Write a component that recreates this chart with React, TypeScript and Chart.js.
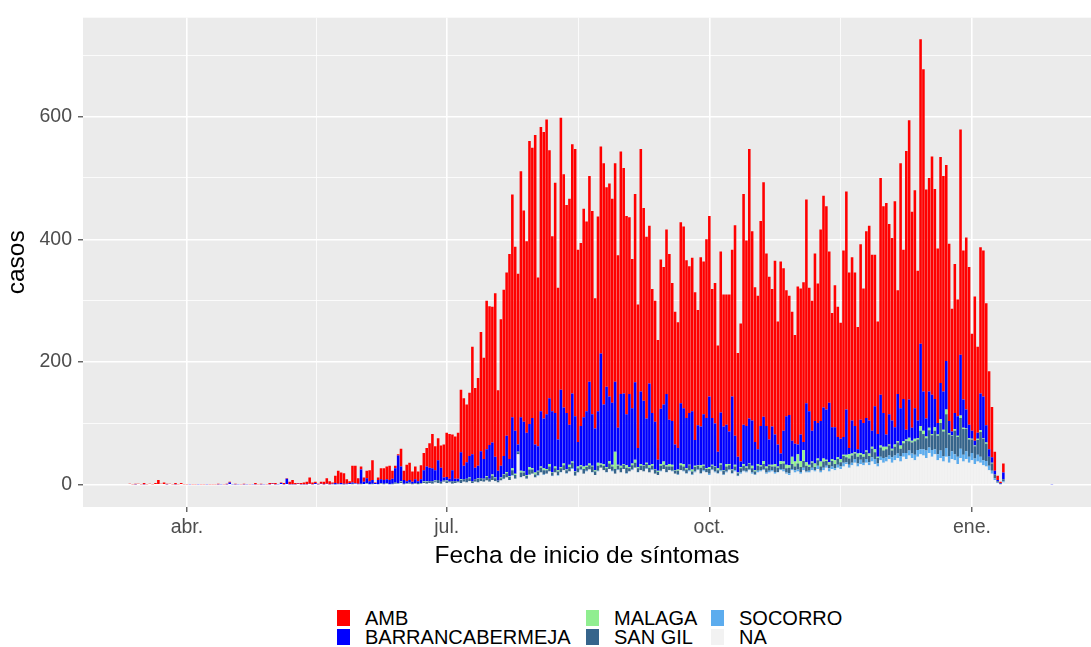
import React, { useEffect, useRef } from "react";
import { Chart, registerables } from "chart.js";

Chart.register(...registerables);

// ---------------- data ----------------
// one value per day, starting at firstDate (2020-03-12) and ending 2021-01-29
const firstDate = "2020-03-12";
const originDate = "2020-04-01";

const seriesNames = ["AMB", "BARRANCABERMEJA", "MALAGA", "SAN GIL", "SOCORRO", "NA"];
const seriesColors = ["#FF0000", "#0000FF", "#90EE90", "#36648B", "#5CACEE", "#F2F2F2"];

const amb = [
  2,1,1,2,1,2,1,2,1,3,8,2,4,1,2,1,2,1,3,1,
  1,0,1,1,0,1,1,0,1,1, 1,1,0,1,1,1,0,1,0,1, 1,0,1,0,2,1,1,0,1,2, 1,2,0,1,2,1,4,7,2,1, 2,3,4,10,3,2,1,3,4,9,
  5,2,12,21,17,17,7,3,27,28, 9,5,7,12,18,32,1,4,18,19, 21,23,13,4,2,29,15,27,28,17, 21,16,23,28,30,
  40,56,39,36,36,54,72,73,58,69, 75,102,110,94,103,175,130,143,194,165, 242,226,221,266,131,239,271,266,334,363, 300,278,401,344,312,461,440,504,275,463, 467,480,404,285,375,247,
  443,380,339,368,406,435,313,298,340,309, 335,331,212,317,337,393,325,347,332,356, 281,395,367,323,288,243,307,234,395,314, 296,257,202,197,195,243,224,268,270,225, 216,205,295,296,
  257,239,250,241,188,276,249,291,294,210, 229,173,262,215,212,223,239,343,169,225, 376,302,439,308,252,250,334,382,281,265, 224,283,200,313,265,205,194,210,177,257, 238,260,332,
  201,212,273,227,312,345,331,246,186,231, 212,189,304,355,286,266,250,199,286,219, 304,317,287,247,183,353,337,377,310,297, 368,169,399,243,454,455,352,355,244,496, 525,373,348,388,342,
  284,368,351,319,289,200,243,190,367,243, 280,257,158,235,140,238,238,199,127,82, 31,7,2,15,
  0,0,0,0,0,0,0,0,0,0,0,0,0,0,0,0,0,
];

const barrancabermeja = [
  0,0,1,0,0,1,0,0,0,0,0,0,0,1,0,0,1,0,0,0,
  0,1,0,0,1,0,0,1,0,0, 0,1,1,0,1,4,1,1,1,0, 1,1,0,1,1,0,1,1,0,1, 2,1,1,3,1,10,1,1,1,2, 1,1,1,2,1,3,1,2,1,2,
  1,1,2,1,2,1,1,3,2,1, 1,23,5,8,5,6,3,7,6,6, 6,7,8,23,45,24,6,3,4,3, 6,3,6,18,24,
  22,21,17,32,23,5,6,4,18,4, 4,44,22,27,35,44,19,20,44,32, 44,55,52,34,16,19,30,59,28,83, 70,12,87,81,69,70,82,46,40,90, 81,89,107,99,87,50,
  126,91,92,65,111,90,40,64,80,89, 133,84,68,84,179,97,131,105,101,114, 60,117,115,83,119,90,126,31,118,105, 72,133,83,77,18,90,93,116,72,71, 42,35,98,91,
  82,84,95,42,65,63,82,82,115,76, 70,27,83,71,64,53,119,47,26,9, 64,66,73,74,46,24,64,72,66,41, 62,48,36,12,50,79,82,26,29,16, 43,13,96,
  87,50,69,58,66,83,82,97,52,54, 33,33,29,74,10,54,43,7,54,51, 53,54,26,70,37,83,55,20,49,46, 28,77,61,69,16,62,21,50,29,134, 64,29,59,64,46,
  19,59,62,79,20,6,26,32,99,46, 31,22,13,8,10,60,68,28,12,9, 6,2,1,11,
  0,0,0,0,0,0,0,0,0,0,0,0,0,0,0,0,1,
];

const malaga = [
  0,0,0,0,0,0,0,0,0,0,0,0,0,0,0,0,0,0,0,0,
  0,0,0,0,0,0,0,0,0,0, 0,0,0,0,0,0,0,0,0,0, 0,0,0,0,0,0,0,0,0,0, 0,0,0,0,0,0,0,0,0,0, 0,0,0,0,0,0,0,0,0,0,
  0,0,0,0,0,0,0,0,0,0, 0,0,0,0,0,0,0,0,0,0, 0,0,0,0,0,1,0,0,0,0, 0,0,0,1,1,
  0,0,1,0,0,0,1,0,0,0, 0,1,0,0,1,0,0,1,0,1, 1,0,2,1,0,1,1,2,1,3, 2,1,3,2,1,4,2,3,1,2, 3,2,4,1,3,2,
  2,3,1,4,2,1,3,2,4,2, 3,1,2,5,2,3,2,4,3,28, 2,3,1,4,2,3,5,2,3,1, 2,4,3,1,2,3,5,2,4,3, 1,2,3,4,
  2,1,3,2,1,4,2,1,3,2, 1,3,2,1,4,2,1,3,1,2, 3,2,1,4,2,3,2,5,3,2, 3,4,2,5,3,6,4,12,8,15, 10,18,6,
  4,2,6,3,8,5,2,4,3,6, 3,5,2,4,7,3,2,5,3,4, 2,4,3,5,2,3,6,4,2,3, 4,2,5,3,2,6,3,4,2,8, 5,3,4,2,6,
  2,6,3,8,2,1,3,2,4,2, 1,2,1,1,2,3,1,2,0,1, 0,0,0,0,
  0,0,0,0,0,0,0,0,0,0,0,0,0,0,0,0,0,
];

const sanGil = [
  0,0,0,0,0,0,0,0,0,0,0,0,0,0,0,0,0,0,0,0,
  0,0,0,0,0,0,0,0,0,0, 0,0,0,0,0,0,0,0,0,0, 0,0,0,0,0,0,0,0,0,0, 0,0,0,0,0,0,0,0,0,0, 0,0,0,0,0,0,0,0,0,0,
  0,0,1,0,0,1,0,0,1,0, 0,1,0,1,0,1,0,0,1,1, 1,0,1,2,1,2,1,1,2,1, 1,2,1,2,3,
  3,4,2,5,3,2,3,2,4,3, 2,5,4,6,5,3,4,6,5,4, 6,5,7,5,3,4,6,7,5,8, 6,3,7,6,5,8,7,5,6,8, 7,6,8,5,7,6,
  6,8,5,7,9,6,7,5,8,6, 7,9,6,8,5,7,6,9,7,8, 6,8,7,9,5,7,8,6,7,9, 7,8,6,7,5,8,7,9,6,7, 5,6,8,7,
  6,8,5,7,6,9,7,5,8,6, 7,5,9,6,8,7,5,6,4,7, 8,6,9,7,5,8,6,9,7,8, 6,9,7,8,10,7,9,8,6,10, 8,11,9,
  6,8,5,9,7,10,8,6,9,7, 9,7,11,8,10,12,9,11,8,10, 12,10,14,11,9,15,12,13,16,11, 14,18,12,16,20,15,18,22,17,30, 25,20,28,24,30,
  30,45,40,55,35,25,38,32,50,42, 36,28,22,20,24,40,35,28,15,12, 6,2,1,3,
  0,0,0,0,0,0,0,0,0,0,0,0,0,0,0,0,0,
];

const socorro = [
  0,0,0,0,0,0,0,0,0,0,0,0,0,0,0,0,0,0,0,0,
  0,0,0,0,0,0,0,0,0,0, 0,0,0,0,0,0,0,0,0,0, 0,0,0,0,0,0,0,0,0,0, 0,0,0,0,0,0,0,0,0,0, 0,0,0,0,0,0,0,0,0,0,
  0,0,0,0,0,0,0,0,0,0, 0,0,0,0,0,0,0,0,0,0, 0,0,0,0,0,0,0,0,0,0, 0,0,0,0,0,
  0,0,0,0,0,0,0,0,0,0, 0,0,0,0,0,0,0,0,0,0, 0,0,0,0,0,0,1,0,0,1, 0,0,1,0,0,1,0,0,1,0, 1,0,0,1,0,1,
  1,0,1,0,1,0,0,1,0,1, 0,1,0,1,0,0,1,0,1,0, 1,0,0,1,0,1,0,1,0,0, 1,0,1,0,0,1,0,1,0,1, 0,1,0,1,
  1,2,1,2,1,1,2,1,2,1, 2,1,2,1,2,1,1,2,1,2, 1,2,1,2,1,3,2,1,2,3, 2,3,1,2,3,2,3,2,4,3, 3,4,2,
  3,4,2,5,3,4,3,5,4,3, 5,4,6,3,5,4,6,5,7,4, 6,5,7,8,5,6,8,7,6,9, 8,7,9,6,10,8,7,9,11,8, 10,12,9,11,8,
  10,12,9,14,11,13,10,12,15,11, 13,10,12,9,11,10,8,9,7,5, 3,1,0,2,
  0,0,0,0,0,0,0,0,0,0,0,0,0,0,0,0,0,
];

const na = [
  0,0,0,0,0,0,0,0,0,0,0,0,0,0,0,0,0,0,0,0,
  0,0,0,0,0,0,0,0,0,0, 0,0,0,0,0,0,0,0,0,0, 0,0,0,0,0,0,0,0,0,0, 0,0,0,0,0,0,0,0,0,0, 0,0,0,0,0,0,0,0,0,0,
  0,1,0,1,1,0,1,0,1,2, 1,1,0,2,1,1,0,1,2,1, 2,1,1,2,2,3,1,2,2,1, 2,1,2,3,2,
  3,2,4,3,2,5,3,4,2,3, 4,3,5,4,6,3,5,4,6,5, 7,5,8,6,4,7,9,12,8,15, 10,50,12,14,10,16,18,12,15,20, 16,18,22,14,20,15,
  20,24,18,22,26,15,20,24,18,22, 25,20,16,22,28,24,20,26,22,18, 24,20,26,18,22,24,28,20,24,22, 26,20,24,18,16,22,26,20,24,22, 18,16,24,22,
  18,22,16,20,24,18,22,20,16,24, 20,18,22,16,20,24,18,22,14,18, 22,20,24,18,16,20,22,24,18,20, 22,18,20,24,22,18,16,24,20,22, 18,24,20,
  20,24,22,26,20,24,28,22,26,24, 28,26,30,34,28,32,36,30,34,32, 36,32,38,34,30,40,36,38,42,36, 40,44,38,46,42,48,44,40,46,50, 48,44,52,46,50,
  40,44,38,46,36,42,40,34,44,38, 42,36,40,34,38,36,32,30,24,18, 8,3,1,4,
  0,0,0,0,0,0,0,0,0,0,0,0,0,0,0,0,0,
];

const xTickDates = ["2020-04-01", "2020-07-01", "2020-10-01", "2021-01-01"];
const xTickLabels = ["abr.", "jul.", "oct.", "ene."];
const yTickValues = [0, 200, 400, 600];

// ---------------- layout constants ----------------
const FONT = "'Liberation Sans', Arial, Helvetica, sans-serif";
const X_MIN = -36.4;
const X_MAX = 316.7;
const Y_MIN = -36;
const Y_MAX = 761;

function dayOffset(s: string): number {
  return Math.round((Date.parse(s + "T00:00:00Z") - Date.parse(originDate + "T00:00:00Z")) / 86400000);
}

const xMajor = xTickDates.map(dayOffset);
const xMinor = xMajor.slice(1).map((v, i) => (v + xMajor[i]) / 2);
const xAllTicks = [...xMajor, ...xMinor].sort((a, b) => a - b);
const yMinor = yTickValues.map((v) => v + 100);
const yAllTicks = [...yTickValues, ...yMinor].sort((a, b) => a - b);

export default function App() {
  const ref = useRef<HTMLCanvasElement | null>(null);

  useEffect(() => {
    if (!ref.current) return;
    const start = dayOffset(firstDate);
    const seriesData = [amb, barrancabermeja, malaga, sanGil, socorro, na];
    const datasets = seriesNames
      .map((name, i) => ({
        label: name,
        data: seriesData[i].map((v, j) => ({ x: start + j, y: v })),
        backgroundColor: seriesColors[i],
        borderWidth: 0,
        barPercentage: 0.9,
        categoryPercentage: 1,
      }))
      .reverse();

    const bgPlugin = {
      id: "panelBg",
      beforeDraw(chart: any) {
        const { ctx, chartArea } = chart;
        ctx.save();
        ctx.fillStyle = "#EBEBEB";
        ctx.fillRect(chartArea.left, chartArea.top, chartArea.right - chartArea.left, chartArea.bottom - chartArea.top);
        ctx.restore();
      },
    };

    const chart = new Chart(ref.current, {
      type: "bar",
      data: { datasets: datasets as any },
      plugins: [bgPlugin],
      options: {
        animation: false,
        responsive: false,
        events: [],
        layout: { padding: { top: 13, right: 0, bottom: 0, left: 0 } },
        plugins: { legend: { display: false }, tooltip: { enabled: false } },
        scales: {
          x: {
            type: "linear",
            stacked: true,
            min: X_MIN,
            max: X_MAX,
            offset: false,
            afterBuildTicks: (s: any) => {
              s.ticks = xAllTicks.map((v) => ({ value: v }));
            },
            afterFit: (s: any) => {
              s.height = 65;
            },
            ticks: {
              autoSkip: false,
              maxRotation: 0,
              minRotation: 0,
              color: "#4D4D4D",
              font: { family: FONT, size: 19.5 },
              padding: 4,
              callback: (v: any) => {
                const k = xMajor.indexOf(Number(v));
                return k >= 0 ? xTickLabels[k] : "";
              },
            },
            grid: {
              offset: false,
              color: "#FFFFFF",
              lineWidth: (c: any) => (xMajor.includes(c.tick?.value) ? 1.6 : 0.8),
              tickColor: (c: any) => (xMajor.includes(c.tick?.value) ? "#333333" : "rgba(0,0,0,0)"),
              tickWidth: 1.1,
              tickLength: 5,
            },
            border: { display: false },
            title: {
              display: true,
              text: "Fecha de inicio de síntomas",
              color: "#000000",
              font: { family: FONT, size: 24.5 },
              padding: { top: 0, bottom: 1 },
            },
          },
          y: {
            type: "linear",
            stacked: true,
            min: Y_MIN,
            max: Y_MAX,
            afterBuildTicks: (s: any) => {
              s.ticks = yAllTicks.map((v) => ({ value: v }));
            },
            afterFit: (s: any) => {
              s.width = 83;
            },
            ticks: {
              color: "#4D4D4D",
              font: { family: FONT, size: 19.5 },
              padding: 6,
              callback: (v: any) => (yTickValues.includes(Number(v)) ? String(v) : ""),
            },
            grid: {
              color: "#FFFFFF",
              lineWidth: (c: any) => (yTickValues.includes(c.tick?.value) ? 1.6 : 0.8),
              tickColor: (c: any) => (yTickValues.includes(c.tick?.value) ? "#333333" : "rgba(0,0,0,0)"),
              tickWidth: 1.1,
              tickLength: 5,
            },
            border: { display: false },
            title: {
              display: true,
              text: "casos",
              color: "#000000",
              font: { family: FONT, size: 24.5 },
              padding: { top: 3, bottom: 0 },
            },
          },
        },
      } as any,
    });
    return () => chart.destroy();
  }, []);

  const legendCols = [337, 586, 711];
  const legendRows = [610, 629];

  return (
    <div style={{ position: "absolute", left: 0, top: 0, width: 1091, height: 647, background: "#FFFFFF", overflow: "hidden" }}>
      <canvas ref={ref} width={1091} height={572} style={{ display: "block" }} />
      {seriesNames.map((name, i) => {
        const col = Math.floor(i / 2);
        const row = i % 2;
        return (
          <div
            key={name}
            style={{
              position: "absolute",
              left: legendCols[col],
              top: legendRows[row],
              height: 16,
              display: "flex",
              alignItems: "center",
              fontFamily: FONT,
              fontSize: 20,
              lineHeight: "16px",
              color: "#000000",
              whiteSpace: "nowrap",
            }}
          >
            <span style={{ display: "inline-block", width: 13, height: 16, background: seriesColors[i], marginRight: 15 }} />
            <span>{name}</span>
          </div>
        );
      })}
    </div>
  );
}
